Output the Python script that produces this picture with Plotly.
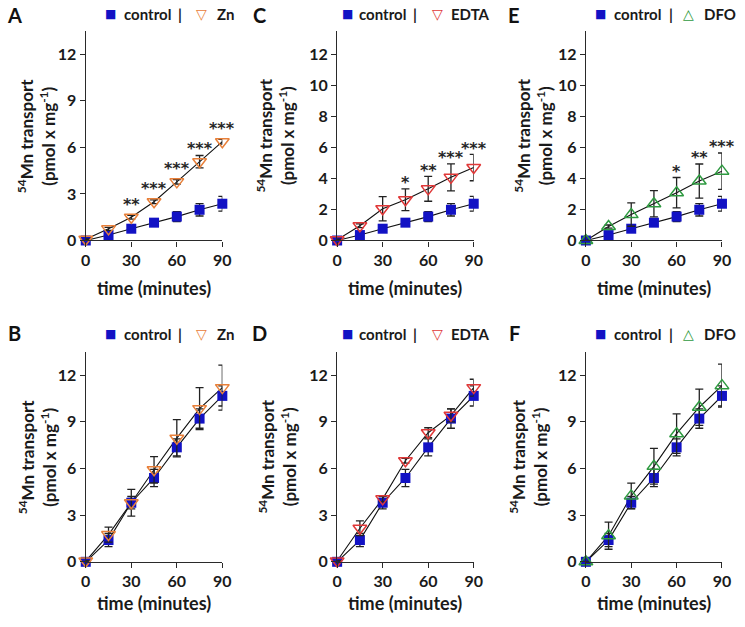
import plotly.graph_objects as go

W, H = 745, 627

# ---------------- data ----------------
time_min = [0, 15, 30, 45, 60, 75, 90]
x_ticks = [0, 30, 60, 90]
y_ticks_3 = [0, 3, 6, 9, 12]
y_ticks_2 = [0, 2, 4, 6, 8, 10, 12]

# top row (A, C, E)
control_top = [0.0, 0.35, 0.76, 1.15, 1.54, 1.98, 2.37]
control_top_err = [0.02, 0.1, 0.1, 0.12, 0.32, 0.4, 0.48]
zn_top = [0.08, 0.75, 1.5, 2.5, 3.78, 5.08, 6.37]
zn_top_err = [0.03, 0.1, 0.12, 0.12, 0.15, 0.4, 0.15]
zn_top_sig = ["", "", "**", "***", "***", "***", "***"]
edta_top = [0.05, 0.95, 2.05, 2.63, 3.33, 4.07, 4.7]
edta_top_err = [0.03, 0.12, 0.78, 0.7, 0.8, 0.87, 0.85]
edta_top_sig = ["", "", "", "*", "**", "***", "***"]
dfo_top = [0.0, 0.9, 1.67, 2.37, 3.08, 3.83, 4.47]
dfo_top_err = [0.02, 0.1, 0.75, 0.85, 0.98, 1.1, 1.17]
dfo_top_sig = ["", "", "", "", "*", "**", "***"]

# bottom row (B, D, F)
control_bot = [0.0, 1.4, 3.8, 5.39, 7.36, 9.21, 10.67]
control_bot_err = [0.03, 0.42, 0.4, 0.55, 0.55, 0.62, 0.65]
zn_bot = [0.05, 1.75, 3.8, 5.92, 7.95, 9.85, 11.2]
zn_bot_err = [0.03, 0.48, 0.86, 0.85, 1.2, 1.35, 1.45]
edta_bot = [0.05, 2.16, 4.05, 6.5, 8.3, 9.42, 11.2]
edta_bot_err = [0.03, 0.47, 0.2, 0.15, 0.32, 0.42, 0.54]
dfo_bot = [0.0, 1.68, 4.24, 6.14, 8.24, 9.94, 11.33]
dfo_bot_err = [0.03, 0.87, 0.82, 1.15, 1.27, 1.16, 1.38]

no_sig = ["", "", "", "", "", "", ""]

# ---------------- styles ----------------
FONT = "Lato, 'Open Sans', sans-serif"
SYMF = "DejaVu Sans, sans-serif"
TXT = "#1a1a1a"
AX = "#2a2a2a"
BLUE = "#1212c4"
ORANGE = "#e8803a"
RED = "#e03838"
GREEN = "#2e9a40"

Y_MAX = 13.5
col_px = [(82.3, 221.5), (338.5, 477.7), (592.0, 730.7)]
row_px = [(31.5, 244.0), (357.0, 570.0)]  # (top, bottom=zero)

panels = [
    dict(letter="A", row=0, col=0, ctrl=control_top, ctrl_err=control_top_err,
         trt=zn_top, trt_err=zn_top_err, sig=zn_top_sig, name="Zn",
         color=ORANGE, symbol="triangle-down-open", glyph="\u25BD", yticks=y_ticks_3),
    dict(letter="C", row=0, col=1, ctrl=control_top, ctrl_err=control_top_err,
         trt=edta_top, trt_err=edta_top_err, sig=edta_top_sig, name="EDTA",
         color=RED, symbol="triangle-down-open", glyph="\u25BD", yticks=y_ticks_2),
    dict(letter="E", row=0, col=2, ctrl=control_top, ctrl_err=control_top_err,
         trt=dfo_top, trt_err=dfo_top_err, sig=dfo_top_sig, name="DFO",
         color=GREEN, symbol="triangle-up-open", glyph="\u25B3", yticks=y_ticks_2),
    dict(letter="B", row=1, col=0, ctrl=control_bot, ctrl_err=control_bot_err,
         trt=zn_bot, trt_err=zn_bot_err, sig=no_sig, name="Zn",
         color=ORANGE, symbol="triangle-down-open", glyph="\u25BD", yticks=y_ticks_3),
    dict(letter="D", row=1, col=1, ctrl=control_bot, ctrl_err=control_bot_err,
         trt=edta_bot, trt_err=edta_bot_err, sig=no_sig, name="EDTA",
         color=RED, symbol="triangle-down-open", glyph="\u25BD", yticks=y_ticks_3),
    dict(letter="F", row=1, col=2, ctrl=control_bot, ctrl_err=control_bot_err,
         trt=dfo_bot, trt_err=dfo_bot_err, sig=no_sig, name="DFO",
         color=GREEN, symbol="triangle-up-open", glyph="\u25B3", yticks=y_ticks_3),
]

# pixel positions for decorations (per column / row)
letter_x = [10, 259, 519]
letter_y = [15, 338]
legend_y = [14, 339]
legend_cols = [
    dict(sq=108, ctrl=145, bar=178, tri=200, lab=214),
    dict(sq=349, ctrl=385, bar=418, tri=441, lab=453),
    dict(sq=607, ctrl=645, bar=679, tri=697, lab=710),
]
ytitle_x = [[32, 276, 539], [33, 278, 534]]
xtitle_y = [292, 612]

fig = go.Figure()
layout = dict(
    width=W, height=H, margin=dict(l=0, r=0, t=0, b=0),
    paper_bgcolor="white", plot_bgcolor="white", showlegend=False,
    font=dict(family=FONT, color=TXT),
)
annotations = []


def px_x(p):
    return p / W


def px_y(p):
    return 1 - p / H


for i, p in enumerate(panels):
    n = i + 1
    xa = "x" if n == 1 else f"x{n}"
    ya = "y" if n == 1 else f"y{n}"
    x0, x1 = col_px[p["col"]]
    ytop, ybot = row_px[p["row"]]
    ppu = (ybot - ytop) / Y_MAX

    layout[f"xaxis{n}"] = dict(
        domain=[px_x(x0), px_x(x1)], range=[0, 90], anchor=ya,
        tickvals=x_ticks, ticks="outside", ticklen=5, tickwidth=1.4, tickcolor=AX,
        showline=True, linecolor=AX, linewidth=1.4, showgrid=False, zeroline=False,
        tickfont=dict(family=FONT, size=16, color=TXT, weight="bold"), fixedrange=True,
    )
    layout[f"yaxis{n}"] = dict(
        domain=[px_y(ybot), px_y(ytop)], range=[0, Y_MAX], anchor=xa,
        tickvals=p["yticks"], ticks="outside", ticklen=5, tickwidth=1.4, tickcolor=AX,
        showline=True, linecolor=AX, linewidth=1.4, showgrid=False, zeroline=False,
        tickfont=dict(family=FONT, size=16, color=TXT, weight="bold"), fixedrange=True,
    )

    # connecting lines (drawn under markers)
    for ys in (p["ctrl"], p["trt"]):
        fig.add_trace(go.Scatter(x=time_min, y=ys, mode="lines", xaxis=xa, yaxis=ya,
                                 line=dict(color="#111111", width=1.1), hoverinfo="skip"))
    # control
    fig.add_trace(go.Scatter(
        x=time_min, y=p["ctrl"], mode="markers", xaxis=xa, yaxis=ya, name="control",
        marker=dict(symbol="square", size=10, color=BLUE, line=dict(width=0)),
        error_y=dict(type="data", array=p["ctrl_err"], color="#222222", thickness=1.3, width=4),
        cliponaxis=False,
    ))
    # treatment
    fig.add_trace(go.Scatter(
        x=time_min, y=p["trt"], mode="markers", xaxis=xa, yaxis=ya, name=p["name"],
        marker=dict(symbol=p["symbol"], size=12, color=p["color"], line=dict(width=1.5, color=p["color"])),
        error_y=dict(type="data", array=p["trt_err"], color="#222222", thickness=1.3, width=4),
        cliponaxis=False,
    ))

    # significance stars
    for t, m, e, s in zip(time_min, p["trt"], p["trt_err"], p["sig"]):
        if s:
            shift = max(e * ppu, 7) + 11 - 5
            annotations.append(dict(
                x=t, y=m, xref=xa, yref=ya, text=s, showarrow=False,
                yanchor="middle", xanchor="center", yshift=shift,
                font=dict(family=SYMF, size=16, color="#262626", weight="bold"),
            ))

    # panel letter
    annotations.append(dict(
        x=px_x(letter_x[p["col"]]), y=px_y(letter_y[p["row"]]), xref="paper", yref="paper",
        text=p["letter"], showarrow=False, xanchor="center", yanchor="middle",
        font=dict(family=FONT, size=20, color="#111111", weight="bold"),
    ))

    # legend
    lc = legend_cols[p["col"]]
    ly = px_y(legend_y[p["row"]])
    annotations += [
        dict(x=px_x(lc["sq"]), y=ly, xref="paper", yref="paper", text="\u25A0",
             showarrow=False, xanchor="center", yanchor="middle",
             font=dict(family=SYMF, size=12, color=BLUE)),
        dict(x=px_x(lc["ctrl"]), y=ly, xref="paper", yref="paper", text="control",
             showarrow=False, xanchor="center", yanchor="middle",
             font=dict(family=FONT, size=15, color=TXT, weight="bold")),
        dict(x=px_x(lc["bar"]), y=ly, xref="paper", yref="paper", text="|",
             showarrow=False, xanchor="center", yanchor="middle",
             font=dict(family=FONT, size=15, color=TXT, weight="bold")),
        dict(x=px_x(lc["tri"]), y=ly, xref="paper", yref="paper", text=p["glyph"],
             showarrow=False, xanchor="center", yanchor="middle",
             font=dict(family=SYMF, size=14, color=p["color"])),
        dict(x=px_x(lc["lab"]), y=ly, xref="paper", yref="paper", text=p["name"],
             showarrow=False, xanchor="left", yanchor="middle",
             font=dict(family=FONT, size=15, color=TXT, weight="bold")),
    ]

    # y-axis title
    annotations.append(dict(
        x=px_x(ytitle_x[p["row"]][p["col"]]), y=px_y((ytop + ybot) / 2),
        xref="paper", yref="paper", textangle=-90, showarrow=False,
        xanchor="center", yanchor="middle",
        text="<sup>54</sup>Mn transport<br>(pmol x mg<sup>-1</sup>)",
        font=dict(family=FONT, size=17, color=TXT, weight="bold"),
    ))
    # x-axis title
    annotations.append(dict(
        x=px_x((x0 + x1) / 2), y=px_y(xtitle_y[p["row"]]), xref="paper", yref="paper",
        text="time (minutes)", showarrow=False, xanchor="center", yanchor="middle",
        font=dict(family=FONT, size=18, color=TXT, weight="bold"),
    ))

layout["annotations"] = annotations
fig.update_layout(**layout)
fig.write_html("out.html", post_script="document.body.style.margin='0';",
               config={"displayModeBar": False})
